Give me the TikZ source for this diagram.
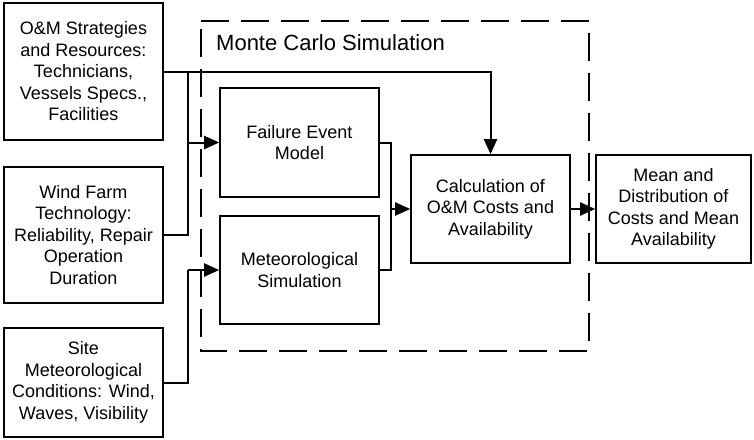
\documentclass[tikz,border=0pt]{standalone}
\usepackage{fontspec}
\setmainfont{Liberation Sans}
\usetikzlibrary{arrows.meta}
\begin{document}
\begin{tikzpicture}[x=1pt,y=-1pt,
  box/.style={draw, line width=1.6pt, rectangle, align=center, inner sep=0pt,
    font=\fontsize{18}{21.5}\selectfont},
  conn/.style={line width=2pt},
  arr/.style={conn, -{Triangle[length=15pt,width=13pt]}},
  frame/.style={line width=1.5pt, dash pattern=on 28pt off 12pt}]
  % canvas
  \fill[white] (0,0) rectangle (754,439);
  \useasboundingbox (0,0) rectangle (754,439);

  % simulation frame
  \draw[frame] (201,21) -- (589,21) -- (589,351) -- (201,351) -- cycle;
  \node[anchor=base west, inner sep=0pt, font=\fontsize{22}{26}\selectfont]
    (mctitle) at (216,50) {Monte Carlo Simulation};

  % input blocks
  \node[box, minimum width=159pt, minimum height=137pt] (strat) at (83.5,71.5)
    {O\&M Strategies\\and Resources:\\Technicians,\\Vessels Specs.,\\Facilities};
  \node[box, minimum width=159pt, minimum height=136pt] (tech) at (83.5,235)
    {Wind Farm\\Technology:\\Reliability, Repair\\Operation\\Duration};
  \node[box, minimum width=159pt, minimum height=109pt] (site) at (83.5,382.5)
    {Site\\Meteorological\\Conditions: Wind,\\Waves, Visibility};

  % simulation blocks
  \node[box, minimum width=159pt, minimum height=109pt] (fail) at (299.5,142.5)
    {Failure Event\\Model};
  \node[box, minimum width=159pt, minimum height=108pt] (met) at (299.5,270)
    {Meteorological\\Simulation};
  \node[box, minimum width=159pt, minimum height=108pt] (calc) at (490.5,209)
    {Calculation of\\O\&M Costs and\\Availability};

  % output block
  \node[box, minimum width=155pt, minimum height=108pt] (out) at (673.5,209)
    {Mean and\\Distribution of\\Costs and Mean\\Availability};

  % junction points
  \coordinate (busA) at (188,71.5);
  \coordinate (busB) at (188,270);
  \coordinate (busC) at (391,209);

  % connectors
  \draw[arr] (strat.east) -| (calc.north);
  \draw[conn] (tech.east) -| (busA);
  \draw[arr] (busA |- fail.west) -- (fail.west);
  \draw[conn] (site.east) -| (busB);
  \draw[arr] (busB) -- (met.west);
  \draw[conn] (fail.east) -| (busC);
  \draw[conn] (met.east) -| (busC);
  \draw[arr] (busC) -- (calc.west);
  \draw[arr] (calc.east) -- (out.west);
\end{tikzpicture}
\end{document}
